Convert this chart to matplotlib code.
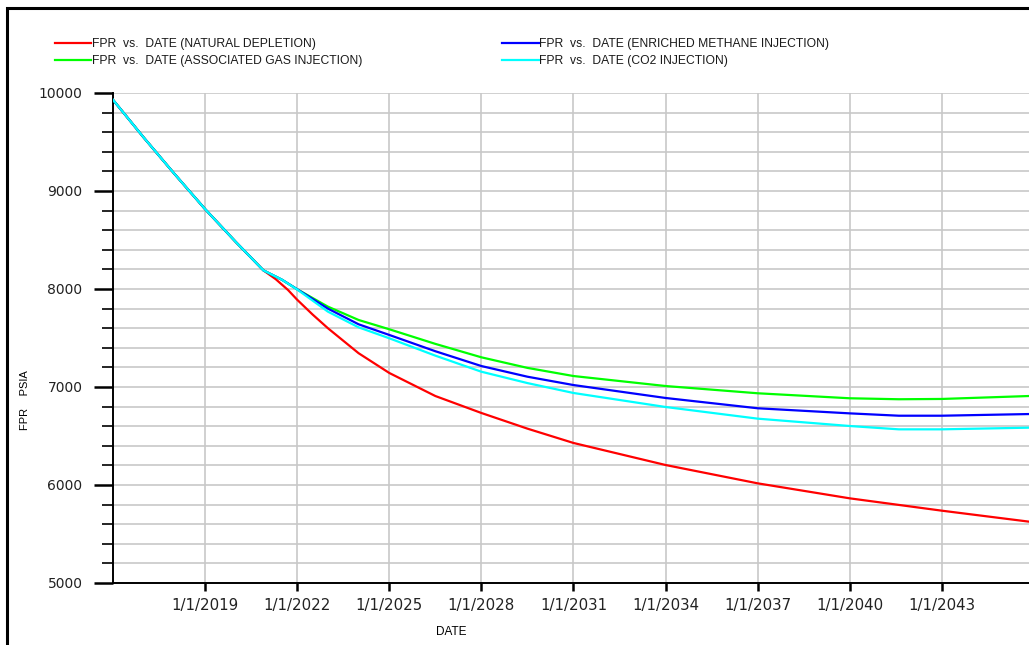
import matplotlib
matplotlib.use("Agg")
import matplotlib.pyplot as plt
import matplotlib.dates as mdates
from matplotlib.ticker import MultipleLocator, FixedLocator
from matplotlib.patches import Rectangle
from datetime import datetime, timedelta

# ---------------- data ----------------
common_years = [2016.0, 2017.0, 2018.0, 2019.0, 2020.0, 2020.9]
common_fpr = [9930, 9545, 9175, 8815, 8480, 8190]

red_years = [2021.3, 2021.7, 2022.0, 2022.5, 2023.0, 2024.0, 2025.0, 2026.5, 2028.0, 2029.5,
             2031.0, 2034.0, 2037.0, 2040.0, 2043.0, 2045.84]
red_fpr = [8100, 7990, 7890, 7740, 7600, 7345, 7143, 6908, 6735, 6575,
           6429, 6204, 6017, 5864, 5738, 5626]

inj_years = [2021.5, 2022.0, 2023.0, 2024.0, 2025.0, 2026.5, 2028.0, 2029.5,
             2031.0, 2034.0, 2037.0, 2040.0, 2041.6, 2043.0, 2045.84]
green_fpr = [8095, 7997, 7820, 7684, 7589, 7440, 7303, 7195,
             7112, 7010, 6936, 6885, 6875, 6878, 6908]
blue_fpr = [8095, 7997, 7800, 7640, 7531, 7365, 7214, 7105,
            7020, 6888, 6783, 6731, 6707, 6707, 6724]
cyan_fpr = [8095, 7995, 7769, 7609, 7497, 7320, 7156, 7040,
            6939, 6796, 6677, 6602, 6568, 6568, 6585]

labels = ["FPR  vs.  DATE (NATURAL DEPLETION)",
          "FPR  vs.  DATE (ASSOCIATED GAS INJECTION)",
          "FPR  vs.  DATE (ENRICHED METHANE INJECTION)",
          "FPR  vs.  DATE (CO2 INJECTION)"]
colors = ["#ff0000", "#00ff00", "#0000ff", "#00ffff"]

tick_years = [2019, 2022, 2025, 2028, 2031, 2034, 2037, 2040, 2043]


def to_date(y):
    year = int(y)
    frac = y - year
    start = datetime(year, 1, 1)
    end = datetime(year + 1, 1, 1)
    return start + timedelta(seconds=frac * (end - start).total_seconds())


# ---------------- figure ----------------
plt.rcParams['font.family'] = ['Liberation Sans', 'DejaVu Sans']
W, H = 1029, 645
fig = plt.figure(figsize=(W / 100, H / 100), dpi=100)
ax = fig.add_axes([113 / W, 1 - 583 / H, (W - 113) / W, (583 - 93) / H])

series = [red_fpr, green_fpr, blue_fpr, cyan_fpr]
for i, (vals, c, lab) in enumerate(zip(series, colors, labels)):
    yrs = common_years + (red_years if i == 0 else inj_years)
    v = common_fpr + vals
    ax.plot([to_date(y) for y in yrs], v, color=c, lw=1.6, label=lab,
            zorder=3 + i, solid_joinstyle='round')

ax.set_xlim(to_date(2016.0), to_date(2045.84))
ax.set_ylim(5000, 10000)

ax.xaxis.set_major_locator(FixedLocator([mdates.date2num(datetime(y, 1, 1)) for y in tick_years]))
ax.xaxis.set_major_formatter(mdates.DateFormatter('%-m/%-d/%Y'))
ax.yaxis.set_major_locator(MultipleLocator(1000))
ax.yaxis.set_minor_locator(MultipleLocator(200))

ax.grid(True, which='both', axis='y', color='#c8c8c8', lw=1.2, zorder=0)
ax.grid(True, which='major', axis='x', color='#c8c8c8', lw=1.2, zorder=0)
ax.set_axisbelow(True)

for s in ['top', 'right']:
    ax.spines[s].set_visible(False)
for s in ['left', 'bottom']:
    ax.spines[s].set_linewidth(1.4)
    ax.spines[s].set_color('black')

ax.tick_params(axis='y', which='major', length=14, width=1.8, direction='out',
               labelsize=10, pad=8, colors='black')
ax.tick_params(axis='y', which='minor', length=8, width=1.2, direction='out')
ax.tick_params(axis='x', which='major', length=6, width=1.8, direction='out',
               labelsize=10.8, pad=5)
for lab in ax.get_xticklabels() + ax.get_yticklabels():
    lab.set_family(['DejaVu Sans'])
    lab.set_color('#222222')

ax.set_ylabel("FPR    PSIA", fontsize=8)
ax.yaxis.set_label_coords((25 - 113) / (W - 113), (583 - 400) / (583 - 93))
ax.yaxis.label.set_va('center')
ax.set_xlabel("DATE", fontsize=8.5)
ax.xaxis.set_label_coords((451 - 113) / (W - 113), (583 - 632) / (583 - 93))
ax.xaxis.label.set_va('center')

leg = fig.legend(loc='upper left', bbox_to_anchor=(55 / W, 1 - 38 / H), ncol=2,
                 frameon=False, fontsize=8.7, handlelength=3.0, handletextpad=0.05,
                 labelspacing=0.42, columnspacing=11.6, borderaxespad=0, borderpad=0)
for line in leg.get_lines():
    line.set_linewidth(1.6)
for t in leg.get_texts():
    t.set_color('#1a1a1a')

# figure border (left and top edges visible)
fig.patches.append(Rectangle((7 / W, -0.05), 1.2, 1 - 8 / H + 0.05,
                             transform=fig.transFigure, fill=False,
                             edgecolor='black', lw=2.2, zorder=10))

fig.savefig("out.png", dpi=100)
